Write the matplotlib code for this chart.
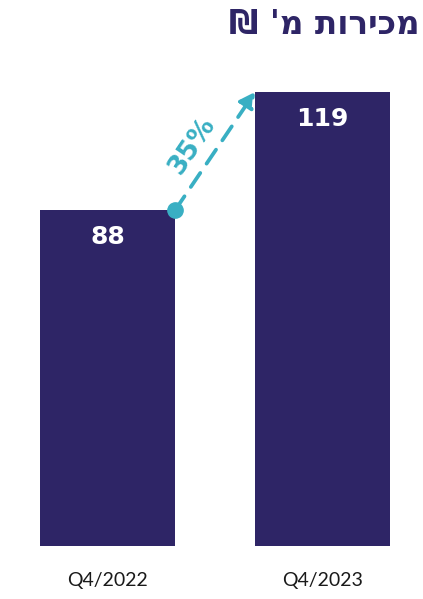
import matplotlib
matplotlib.use("Agg")
import matplotlib.pyplot as plt

categories = ["Q4/2022", "Q4/2023"]
values = [88, 119]
growth_label = "35%"
title = "מכירות מ' ₪"

bar_color = "#2e2566"
teal = "#39afc3"

W, H = 423, 599
fig = plt.figure(figsize=(W / 100, H / 100), dpi=100)
ax = fig.add_axes([0, 53 / H, 1, 496 / H])
ax.set_xlim(-0.5, 1.467)
ax.set_ylim(0, 130)
ax.axis("off")

x = list(range(len(categories)))
bw = 0.628
ax.bar(x, values, width=bw, color=bar_color)

for xi, v in zip(x, values):
    ax.text(xi, v - 7.0, str(v), ha="center", va="center", color="white",
            fontsize=18, fontweight="heavy", family=["DejaVu Sans"])
    ax.text(xi, -9, categories[xi], ha="center", va="center", color="#1a1a1a",
            fontsize=14, fontweight="normal", family=["Lato", "DejaVu Sans"],
            clip_on=False)

# growth arrow
x0, y0 = x[0] + bw / 2, values[0]
x1, y1 = x[1] - bw / 2, values[1]
ax.annotate("", xy=(x1, y1), xytext=(x0, y0),
            arrowprops=dict(arrowstyle="-|>,head_length=0.9,head_width=0.5",
                            color=teal, lw=2.7, linestyle=(0, (4.5, 3.0)),
                            shrinkA=0, shrinkB=0))
ax.plot([x0], [y0], "o", color=teal, markersize=11, clip_on=False)
ax.text((x0 + x1) / 2 - 0.105, (y0 + y1) / 2 + 1.5, growth_label, ha="center",
        va="center", rotation=56, rotation_mode="anchor", color=teal,
        fontsize=19, fontweight="heavy", family=["DejaVu Sans"])

fig.text(420 / W, 1 - 25 / H, title[::-1], ha="right", va="center",
         color=bar_color, fontsize=23.5, fontweight="bold",
         family=["DejaVu Sans", "Liberation Sans"])

fig.savefig("out.png", dpi=100)
